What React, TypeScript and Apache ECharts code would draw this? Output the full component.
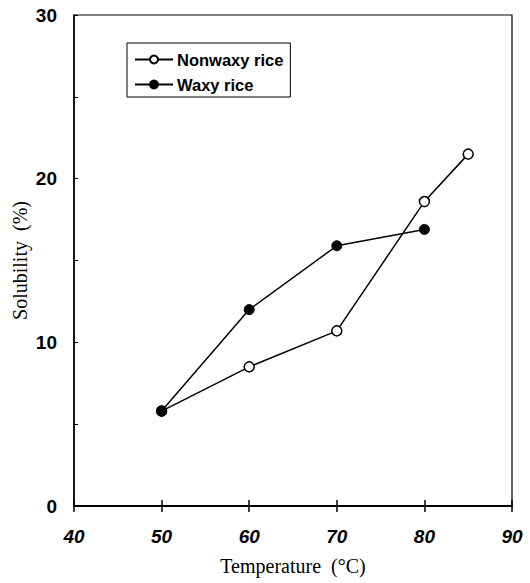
import React, { useEffect, useRef } from "react";
import * as echarts from "echarts";

const nonwaxyTemp = [50, 60, 70, 80, 85];
const nonwaxySol = [5.8, 8.5, 10.7, 18.6, 21.5];
const waxyTemp = [50, 60, 70, 80];
const waxySol = [5.8, 12.0, 15.9, 16.9];
const seriesNames = ["Nonwaxy rice", "Waxy rice"];

export default function App() {
  const ref = useRef<HTMLDivElement>(null);
  useEffect(() => {
    const chart = echarts.init(ref.current!, null, { renderer: "svg" });
    const labelFont = { fontFamily: "Liberation Sans, Arial, sans-serif", fontWeight: "bold" as const, fontSize: 19, color: "#000" };
    chart.setOption({
      animation: false,
      backgroundColor: "#fff",
      grid: {
        left: 74, right: 18, top: 15, bottom: 77, show: true, borderColor: "#000", borderWidth: 1.2, backgroundColor: "transparent",
        containLabel: false, outerBoundsMode: "none",
      },
      legend: {
        orient: "vertical",
        left: 127,
        top: 43,
        padding: [8, 7, 4, 7],
        itemGap: 8,
        itemWidth: 38,
        itemHeight: 10,
        borderColor: "#000",
        borderWidth: 1,
        data: seriesNames,
        textStyle: { fontFamily: "Liberation Sans, Arial, sans-serif", fontWeight: "bold", fontSize: 16.5, color: "#000", padding: [0, 0, 0, -1] },
      },
      xAxis: [
        {
          type: "value",
          min: 40,
          max: 90,
          interval: 10,
          name: "Temperature  (\u00B0C)",
          nameLocation: "middle",
          nameGap: 50,
          nameMoveOverlap: false,
          nameTextStyle: { fontFamily: "Liberation Serif, Times New Roman, serif", fontSize: 20, color: "#000" },
          axisLine: { lineStyle: { color: "#000", width: 2 } },
          axisTick: { inside: true, length: 6, lineStyle: { color: "#000", width: 1.5 } },
          axisLabel: { ...labelFont, fontStyle: "italic", margin: 21 },
          splitLine: { show: false },
        },
        {
          type: "value",
          min: 40,
          max: 90,
          interval: 10,
          position: "bottom",
          axisLine: { show: false },
          axisTick: { inside: false, length: 6, lineStyle: { color: "#000", width: 1.5 } },
          axisLabel: { show: false },
          splitLine: { show: false },
        },
      ],
      yAxis: {
        type: "value",
        min: 0,
        max: 30,
        interval: 5,
        name: "Solubility  (%)",
        nameLocation: "middle",
        nameGap: 44,
        nameMoveOverlap: false,
        nameTextStyle: { fontFamily: "Liberation Serif, Times New Roman, serif", fontSize: 20, color: "#000" },
        axisLine: { lineStyle: { color: "#000", width: 1.5 } },
        axisTick: { inside: true, length: 4, lineStyle: { color: "#000", width: 1 } },
        axisLabel: { ...labelFont, margin: 17, formatter: (v: number) => (v % 10 === 0 ? String(v) : "") },
        splitLine: { show: false },
      },
      series: [
        {
          name: seriesNames[0],
          type: "line",
          data: nonwaxyTemp.map((t, i) => [t, nonwaxySol[i]]),
          symbol: "circle",
          symbolSize: 10,
          itemStyle: { color: "#fff", borderColor: "#000", borderWidth: 1.5 },
          lineStyle: { color: "#000", width: 1.5 },
        },
        {
          name: seriesNames[1],
          type: "line",
          data: waxyTemp.map((t, i) => [t, waxySol[i]]),
          symbol: "circle",
          symbolSize: 10,
          itemStyle: { color: "#000", borderColor: "#000", borderWidth: 1 },
          lineStyle: { color: "#000", width: 1.5 },
        },
      ],
    });
    return () => chart.dispose();
  }, []);
  return <div ref={ref} style={{ width: 530, height: 583, position: "absolute", left: 0, top: 0 }} />;
}
